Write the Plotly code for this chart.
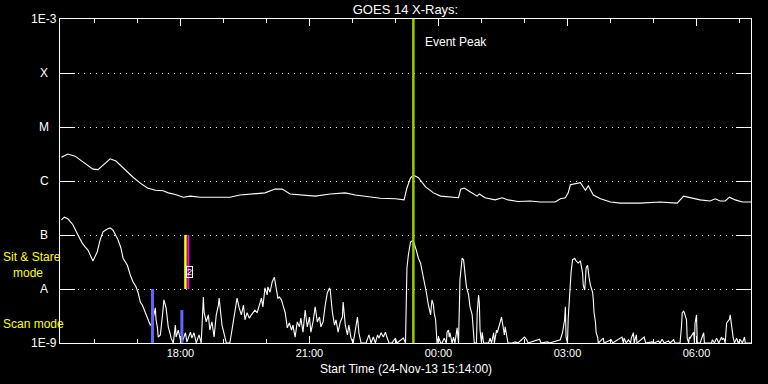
import plotly.graph_objects as go
import pandas as pd

START = pd.Timestamp("2013-11-24 15:14:00")

# Long channel (1-8 A): minutes since start, log10 flux
long_min = [0, 9, 19, 33, 44, 51, 60, 68, 76, 89, 100, 110, 120, 131, 142, 149, 159, 170, 180, 194,
            214, 235, 249, 270, 284, 298, 308, 319, 333, 354, 375, 396, 410, 431, 445, 466, 478, 482,
            487, 491, 498, 508, 519, 529, 542, 554, 557, 562, 570, 580, 583, 591, 605, 615, 623, 637,
            654, 668, 689, 696, 703, 707, 710, 713, 724, 728, 731, 735, 742, 752, 766, 780, 807, 835,
            859, 868, 877, 891, 905, 912, 919, 926, 932, 940, 950, 963]
long_log = [-5.56, -5.50, -5.54, -5.67, -5.78, -5.79, -5.69, -5.59, -5.63, -5.80, -5.93, -6.04, -6.13,
            -6.17, -6.18, -6.22, -6.25, -6.30, -6.28, -6.30, -6.30, -6.30, -6.26, -6.24, -6.22, -6.15,
            -6.15, -6.24, -6.26, -6.28, -6.24, -6.22, -6.26, -6.30, -6.32, -6.33, -6.35, -6.13, -5.94,
            -5.89, -5.94, -6.11, -6.22, -6.28, -6.30, -6.31, -6.15, -6.13, -6.20, -6.28, -6.24, -6.31,
            -6.35, -6.31, -6.35, -6.38, -6.37, -6.39, -6.39, -6.33, -6.31, -6.22, -6.07, -6.06, -6.03,
            -6.11, -6.17, -6.09, -6.26, -6.33, -6.39, -6.41, -6.41, -6.39, -6.41, -6.28, -6.31, -6.35,
            -6.37, -6.33, -6.37, -6.37, -6.30, -6.35, -6.39, -6.39]

# Short channel (0.5-4 A): minutes since start, log10 flux
short_min = [0, 4, 9, 16, 23, 29, 33, 37, 44, 50, 54, 58, 64, 68, 72, 79, 83, 86, 92, 96, 100, 104, 107,
             110, 113, 117, 120, 124, 127, 131, 132, 134, 135, 138, 141, 143, 146, 149, 152, 153, 156,
             159, 160, 163, 166, 168, 173, 175, 180, 182, 185, 188, 192, 195, 198, 199, 202, 205, 207,
             210, 213, 216, 219, 220, 224, 227, 230, 235, 240, 242, 245, 248, 251, 254, 256, 259, 262,
             265, 267, 270, 273, 276, 279, 281, 284, 287, 288, 291, 294, 297, 300, 302, 304, 307, 309,
             312, 314, 315, 318, 321, 323, 326, 329, 332, 334, 337, 340, 343, 346, 348, 351, 354, 357,
             360, 362, 365, 368, 371, 374, 375, 378, 381, 383, 386, 389, 392, 393, 396, 399, 401, 404,
             407, 410, 413, 415, 418, 425, 429, 432, 435, 438, 441, 443, 446, 449, 452, 454, 457, 461,
             466, 468, 477, 480, 481, 482, 484, 487, 489, 492, 495, 498, 501, 503, 506, 509, 512, 515,
             516, 517, 519, 520, 522, 523, 524, 526, 529, 531, 534, 537, 538, 540, 541, 542, 545, 547,
             549, 552, 554, 556, 558, 559, 561, 562, 565, 568, 570, 573, 575, 576, 579, 580, 582, 583,
             584, 586, 587, 589, 596, 598, 600, 603, 604, 607, 608, 611, 614, 615, 618, 619, 622, 623,
             629, 633, 637, 646, 649, 651, 667, 669, 678, 681, 696, 699, 702, 703, 704, 706, 707, 709,
             710, 711, 713, 716, 718, 721, 724, 725, 727, 728, 730, 731, 732, 734, 735, 736, 738, 741,
             742, 743, 745, 746, 748, 749, 756, 757, 767, 769, 782, 784, 785, 788, 791, 794, 795, 798,
             799, 802, 803, 813, 815, 824, 827, 833, 835, 838, 841, 847, 849, 854, 856, 863, 865, 866,
             868, 869, 872, 873, 875, 876, 877, 880, 882, 883, 884, 886, 887, 891, 894, 896, 897, 907,
             908, 911, 914, 917, 921, 922, 924, 926, 928, 929, 930, 932, 933, 935, 936, 937, 939, 942,
             944, 947, 950, 953, 954, 964]
short_log = [-6.72, -6.67, -6.70, -6.81, -7.00, -7.15, -7.22, -7.28, -7.48, -7.31, -7.09, -6.94, -6.89,
             -6.87, -6.91, -7.09, -7.24, -7.43, -7.56, -7.74, -7.87, -7.96, -8.07, -8.24, -8.30, -8.44,
             -8.54, -8.67, -8.61, -8.35, -8.57, -8.72, -8.89, -8.85, -8.48, -8.20, -8.35, -8.70, -8.85,
             -8.91, -9.00, -8.67, -8.89, -8.76, -8.94, -9.00, -8.81, -8.98, -8.80, -8.91, -8.81, -9.00,
             -8.85, -9.00, -8.15, -8.43, -8.61, -8.48, -8.76, -8.61, -8.89, -8.48, -8.30, -8.17, -8.67,
             -8.85, -9.00, -9.00, -8.61, -8.39, -8.17, -8.35, -8.48, -8.30, -8.57, -8.44, -8.54, -8.48,
             -8.44, -8.39, -8.44, -8.30, -8.17, -8.33, -7.98, -8.11, -7.96, -8.06, -7.87, -7.78, -8.06,
             -8.17, -8.15, -8.20, -8.30, -8.43, -8.61, -8.72, -8.63, -8.76, -8.67, -8.89, -8.61, -8.70,
             -8.54, -8.80, -8.39, -8.70, -8.52, -8.80, -8.61, -8.33, -8.61, -8.52, -8.70, -8.61, -8.30,
             -8.07, -7.98, -8.02, -8.43, -8.67, -8.57, -8.80, -8.61, -8.52, -8.24, -8.67, -8.85, -8.67,
             -8.91, -9.00, -8.76, -8.52, -8.81, -9.00, -9.00, -8.85, -9.00, -8.89, -9.00, -8.85, -8.91,
             -8.81, -8.89, -8.80, -8.89, -9.00, -9.00, -8.91, -9.00, -8.91, -9.00, -8.24, -7.61, -7.37,
             -7.13, -7.11, -7.15, -7.28, -7.43, -7.52, -7.65, -7.80, -8.06, -8.30, -8.48, -8.33, -8.20,
             -8.30, -8.44, -8.57, -8.91, -9.00, -8.89, -9.00, -9.00, -8.91, -9.00, -8.80, -8.76, -8.89,
             -8.81, -9.00, -8.89, -9.00, -8.72, -9.00, -7.83, -7.52, -7.43, -7.46, -7.61, -7.96, -8.11,
             -8.33, -8.48, -8.81, -9.00, -9.00, -8.44, -8.11, -8.26, -8.76, -9.00, -8.80, -9.00, -9.00,
             -8.91, -9.00, -8.81, -9.00, -8.76, -8.81, -8.67, -8.52, -8.61, -8.85, -8.70, -8.89, -9.00,
             -9.00, -8.98, -9.00, -8.89, -8.94, -9.00, -8.93, -9.00, -8.98, -9.00, -8.94, -8.81, -8.57,
             -8.33, -8.89, -9.00, -8.54, -8.11, -7.87, -7.69, -7.46, -7.43, -7.48, -7.52, -7.48, -7.56,
             -7.70, -7.93, -8.02, -7.83, -7.61, -7.56, -7.69, -7.78, -7.93, -8.06, -8.20, -8.43, -8.61,
             -8.81, -8.89, -9.00, -8.91, -9.00, -8.94, -9.00, -8.89, -9.00, -8.91, -9.00, -8.94, -9.00,
             -8.91, -8.81, -9.00, -8.85, -9.00, -8.89, -9.00, -8.98, -9.00, -8.96, -9.00, -8.93, -9.00,
             -8.96, -9.00, -8.94, -9.00, -9.00, -8.70, -8.44, -8.41, -8.44, -8.57, -8.91, -9.00, -8.89,
             -8.91, -8.85, -8.80, -9.00, -8.63, -8.48, -9.00, -9.00, -8.89, -8.81, -9.00, -9.00, -8.94,
             -9.00, -8.91, -9.00, -8.89, -8.94, -8.91, -9.00, -8.63, -8.61, -8.59, -8.56, -8.48, -8.70,
             -8.80, -8.89, -9.00, -8.91, -9.00, -8.94, -9.00, -8.89, -9.00, -9.00]

# Event markers
event_peak_min = 491
event_label = "Event Peak"
sitstare_min = [173, 177]          # yellow, magenta
sitstare_colors = ["#ffff00", "#ff00ff"]
sitstare_log = [-7.0, -8.0]
scan_min = [127, 168]
scan_top_log = [-8.0, -8.39]
flag_min = 179
flag_log = -7.68
flag_text = "2"

# Axis definitions
ytick_log = [-3, -4, -5, -6, -7, -8, -9]
ytick_text = ["1E-3", "X", "M", "C", "B", "A", "1E-9"]
x_range = ["2013-11-24 15:12:00", "2013-11-25 07:16:00"]
title_text = "GOES 14 X-Rays:"
xtitle_text = "Start Time (24-Nov-13 15:14:00)"
mode_labels = ["Sit & Stare<br>&nbsp;&nbsp;&nbsp;mode", "Scan mode"]
mode_label_log = [-7.556, -8.65]


def tm(mins):
    return START + pd.to_timedelta(mins, unit="min")


def flux(logs):
    return [10 ** v for v in logs]


fig = go.Figure()
fig.add_trace(go.Scatter(x=tm(long_min), y=flux(long_log), mode="lines",
                         line=dict(color="white", width=1.1), showlegend=False))
fig.add_trace(go.Scatter(x=tm(short_min), y=flux(short_log), mode="lines",
                         line=dict(color="white", width=1.1), showlegend=False))

# scan-mode bars (blue)
for m, top in zip(scan_min, scan_top_log):
    fig.add_trace(go.Scatter(x=tm([m, m]), y=flux([-9, top]), mode="lines",
                             line=dict(color="#6464ff", width=3), showlegend=False))
# sit & stare lines
for m, c in zip(sitstare_min, sitstare_colors):
    fig.add_trace(go.Scatter(x=tm([m, m]), y=flux(sitstare_log), mode="lines",
                             line=dict(color=c, width=2.5 if c == "#ffff00" else 2), showlegend=False))
# event peak line
fig.add_trace(go.Scatter(x=tm([event_peak_min, event_peak_min]), y=flux([-9, -3]), mode="lines",
                         line=dict(color="#9acd00", width=2.5), showlegend=False))

font_main = "Liberation Sans"
ann = []
for v, lab in zip(ytick_log, ytick_text):
    ann.append(dict(x=0, xref="paper", xshift=-16, y=v, yref="y", text=lab, showarrow=False,
                    xanchor="center", yanchor="middle", font=dict(color="white", size=12, family=font_main)))
ann.append(dict(x=tm([event_peak_min])[0], xref="x", xshift=10, y=-3.43, yref="y", text=event_label,
                showarrow=False, xanchor="left", yanchor="middle",
                font=dict(color="white", size=12, family=font_main)))
ann.append(dict(x=tm([flag_min])[0], xref="x", y=flag_log, yref="y", text=flag_text, showarrow=False,
                xanchor="center", yanchor="middle", bordercolor="white", borderwidth=1, borderpad=0,
                font=dict(color="white", size=9, family=font_main)))
for lab, v in zip(mode_labels, mode_label_log):
    ann.append(dict(x=0, xref="paper", xshift=-58, y=v, yref="y", text=lab, showarrow=False,
                    xanchor="left", yanchor="middle", align="left", borderpad=0,
                    font=dict(color="#ffff00", size=12, family=font_main)))
ann.append(dict(x=0.5, xref="paper", y=0, yref="paper", yshift=-26, text=xtitle_text, showarrow=False,
                xanchor="center", yanchor="middle", font=dict(color="white", size=12, family=font_main)))

fig.update_layout(
    width=768, height=384,
    margin=dict(l=60, r=17, t=19, b=41),
    paper_bgcolor="black", plot_bgcolor="black",
    title=dict(text=title_text, x=0.5, xref="paper", xanchor="center", y=1 - 9.5 / 384,
               yref="container", yanchor="middle", font=dict(color="white", size=13, family=font_main)),
    annotations=ann,
    showlegend=False,
)
fig.update_xaxes(
    type="date", range=x_range, showgrid=False, zeroline=False,
    showline=True, linecolor="white", linewidth=1, mirror="ticks",
    ticks="inside", ticklen=7, tickcolor="white", tickwidth=1,
    tick0="2013-11-24 18:00:00", dtick=3 * 3600 * 1000, tickformat="%H:%M",
    tickfont=dict(color="white", size=11, family=font_main),
    minor=dict(ticks="inside", ticklen=4, tickcolor="white", dtick=3600 * 1000,
               tick0="2013-11-24 18:00:00", showgrid=False),
)
fig.update_yaxes(
    type="log", range=[-9, -3], tickvals=flux(ytick_log), showticklabels=False,
    showline=True, linecolor="white", linewidth=1, mirror="ticks",
    ticks="inside", ticklen=15, tickcolor="white", tickwidth=1,
    showgrid=True, gridcolor="white", gridwidth=1, griddash="1px,5px", zeroline=False,
)

fig.write_html("out.html")
